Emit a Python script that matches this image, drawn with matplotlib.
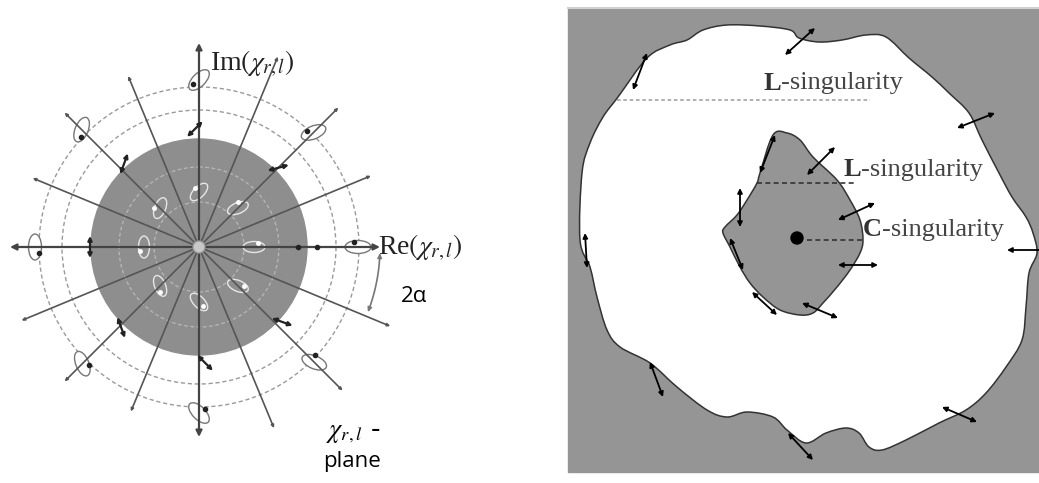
import numpy as np
import matplotlib
matplotlib.use("Agg")
import matplotlib.pyplot as plt
from matplotlib.patches import Circle, Ellipse, PathPatch, Rectangle, FancyArrowPatch
from matplotlib.path import Path

plt.rcParams['mathtext.fontset'] = 'stix'

# ---- left panel: chi-plane ----
center = (199, 247)
disk_r = 108
dashed_r = [137, 160]
inner_r = [45, 80]
line_angles = [22.5, 45, 67.5, 112.5, 135, 157.5]
# extent of each diameter: (forward end, backward end)
line_len = [(186, 192), (197, 190), (206, 178), (185, 196), (190, 203), (180, 207)]
ell_angles = [0, 45, 90, 135, 180, 225, 270, 315]
ell_r = [159, 162, 167, 166, 164, 165, 166, 163]
inner_ell_r = 55
# short double arrows near the disk edge: (angle, radius, tilt)
edge_arrows = [(92, 118, 45), (45, 112, 15), (132, 112, 70), (180, 109, 90),
               (226, 112, 110), (273, 116, 135), (318, 112, 160)]

# ---- right panel ----
outer_blob = [(580, 240), (582, 173), (590, 143), (603, 117), (618, 97), (647, 58),
              (670, 45), (687, 40), (703, 30), (727, 25), (760, 26), (790, 30),
              (799, 38), (819, 42), (842, 40), (866, 35), (886, 37), (909, 58),
              (932, 77), (949, 93), (969, 113), (982, 140), (999, 173), (1012, 197),
              (1026, 217), (1033, 233), (1037, 253), (1029, 273), (1026, 307),
              (1022, 340), (1006, 367), (986, 393), (966, 410), (939, 423),
              (906, 440), (882, 450), (869, 447), (859, 433), (846, 428), (826, 433),
              (806, 443), (787, 430), (773, 417), (747, 412), (727, 417), (707, 410),
              (677, 387), (650, 363), (620, 347), (607, 330), (597, 297), (590, 267)]
inner_blob = [(760, 173), (773, 135), (787, 133), (800, 140), (813, 157), (837, 180),
              (850, 200), (860, 220), (863, 240), (860, 253), (850, 270), (837, 287),
              (823, 303), (813, 313), (800, 315), (780, 310), (763, 297), (750, 283),
              (740, 267), (730, 247), (723, 233), (725, 227), (737, 215), (747, 200),
              (757, 183)]
c_point = (797, 238)
arrows_r = [((785, 55), (815, 28)), ((633, 90), (647, 53)), ((957, 128), (995, 113)),
            ((807, 175), (835, 147)), ((760, 173), (775, 135)), ((740, 188), (740, 227)),
            ((838, 220), (875, 203)), ((838, 265), (878, 265)), ((802, 303), (838, 318)),
            ((585, 233), (587, 268)), ((730, 238), (743, 270)), ((752, 292), (777, 315)),
            ((650, 362), (663, 397)), ((942, 407), (977, 422)), ((788, 433), (813, 460))]
labels_r = [('L', '-singularity'), ('L', '-singularity'), ('C', '-singularity')]
label_pos = [(763, 83), (843, 170), (863, 230)]

fig = plt.figure(figsize=(10.39, 4.83), dpi=100)
ax = fig.add_axes([0, 0, 1, 1])
ax.set_xlim(0, 1039)
ax.set_ylim(483, 0)
ax.axis('off')

cx, cy = center


def pt(r, ang):
    a = np.radians(ang)
    return cx + r * np.cos(a), cy - r * np.sin(a)


def darrow(p, q, color='black', lw=1.3, ms=7, style='<|-|>', z=5):
    ax.add_patch(FancyArrowPatch(p, q, arrowstyle=style, mutation_scale=ms,
                                 color=color, lw=lw, zorder=z, shrinkA=0, shrinkB=0))


def smooth_path(pts):
    # closed Catmull-Rom curve through the outline points, as cubic Bezier pieces
    p = np.array(pts, float)
    n = len(p)
    verts = [p[0]]
    codes = [Path.MOVETO]
    for i in range(n):
        p0, p1, p2, p3 = p[i - 1], p[i], p[(i + 1) % n], p[(i + 2) % n]
        verts += [p1 + (p2 - p0) / 6, p2 - (p3 - p1) / 6, p2]
        codes += [Path.CURVE4] * 3
    return Path(verts, codes)


ax.add_patch(Circle(center, disk_r, color='#8e8e8e', zorder=1))
for r in dashed_r:
    ax.add_patch(Circle(center, r, fill=False, ec='#9a9a9a', lw=1, ls=(0, (3, 2)), zorder=2))
for r in inner_r:
    ax.add_patch(Circle(center, r, fill=False, ec='#b8b8b8', lw=0.9, ls=(0, (3, 2)), zorder=2))

# axes
darrow((cx - 189, cy), (cx + 181, cy), color='#444', lw=1.6, ms=9)
darrow((cx, cy + 190), (cx, cy - 204), color='#444', lw=1.6, ms=9)
for ang, (lf, lb) in zip(line_angles, line_len):
    darrow(pt(lb, ang + 180), pt(lf, ang), color='#555', lw=1.2, ms=4)

# polarization ellipses
for ang, r in zip(ell_angles, ell_r):
    x, y = pt(r, ang)
    ax.add_patch(Ellipse((x, y), 26, 13, angle=-ang / 2, fill=True, fc='white',
                         ec='#777', lw=1, zorder=4))
    ax.plot(*pt(r - 4, ang + 2), 'o', color='#222', ms=3, zorder=5)
    x, y = pt(inner_ell_r, ang)
    ax.add_patch(Ellipse((x, y), 22, 11, angle=-ang / 2, fill=False,
                         ec='#e6e6e6', lw=1, zorder=4))
    ax.plot(*pt(inner_ell_r + 4, ang + 4), 'o', color='white', ms=2.5, zorder=5)
for ang, r, tilt in edge_arrows:
    x, y = pt(r, ang)
    dx, dy = 11 * np.cos(np.radians(tilt)), -11 * np.sin(np.radians(tilt))
    darrow((x - dx, y - dy), (x + dx, y + dy), color='#222', lw=1.6, ms=6)
ax.plot([298, 317], [cy, cy], 'o', color='#222', ms=3, zorder=5)

ax.add_patch(Circle(center, 6, fc='#c8c8c8', ec='#999', lw=1, zorder=6))

# 2 alpha arc
th = np.linspace(-2, -21, 40)
arc = [pt(181, t) for t in th]
ax.add_patch(FancyArrowPatch(path=Path(arc), arrowstyle='<|-|>', mutation_scale=6,
                             color='#777', lw=1.2, zorder=3))

ax.text(210, 64, r'Im$(\chi_{r,l})$', fontsize=20, family='Liberation Serif',
        va='center', ha='left', color='#222', zorder=7)
ax.text(378, 248, r'Re$(\chi_{r,l})$', fontsize=20, family='Liberation Serif',
        va='center', ha='left', color='#222', zorder=7)
ax.text(401, 296, '2α', fontsize=16, family='Open Sans', va='center', ha='left')
ax.text(326, 432, r'$\chi_{r,l}$ -', fontsize=19, va='center', ha='left')
ax.text(352, 461, 'plane', fontsize=16, family='Open Sans', va='center', ha='center')

# ---- right panel drawing ----
ax.add_patch(Rectangle((568, 9), 471, 463, color='#959595', zorder=1))
ax.plot([568, 1039], [8, 8], color='#d0d0d0', lw=1.5, zorder=1)
ax.add_patch(PathPatch(smooth_path(outer_blob), fc='white', ec='#333', lw=1.1, zorder=2))
ax.add_patch(PathPatch(smooth_path(inner_blob), fc='#959595', ec='#333', lw=1.1, zorder=3))
ax.plot([617, 870], [100, 100], color='#aaa', lw=1.3, ls=(0, (2, 1.5)), zorder=3)
ax.plot([757, 857], [183, 183], color='#333', lw=1.2, ls=(0, (3, 2)), zorder=4)
ax.plot([807, 863], [240, 240], color='#333', lw=1.2, ls=(0, (3, 2)), zorder=4)
ax.add_patch(Circle(c_point, 6, color='black', zorder=5))
for p, q in arrows_r:
    darrow(p, q, lw=1.3, ms=7)
darrow((1039, 250), (1007, 250), style='-|>', lw=1.3, ms=7)
for (b, s), (x, y) in zip(labels_r, label_pos):
    t = ax.text(x, y, b, fontsize=19, family='Liberation Serif', weight='bold',
                va='center', ha='left', color='#333', zorder=7)
    ax.annotate(s, xy=(1, 0.5), xycoords=t, fontsize=19, family='Liberation Serif',
                va='center', ha='left', color='#444', zorder=7)

fig.savefig('out.png', dpi=100)
